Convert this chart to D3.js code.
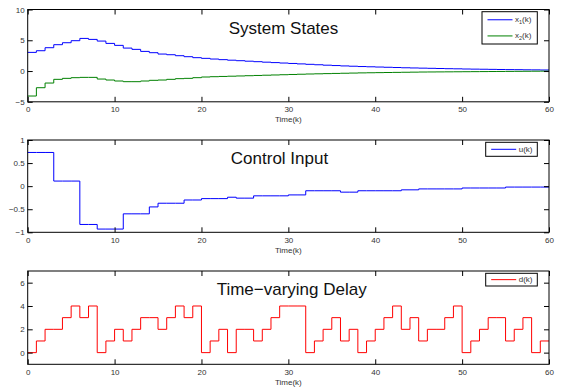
<!DOCTYPE html>
<html>
<head>
<meta charset="utf-8">
<script src="https://cdn.jsdelivr.net/npm/d3@7"></script>
<style>
  body { margin: 0; background: #fff; }
  svg { display: block; font-family: "Liberation Sans", Arial, Helvetica, sans-serif; }
  .tick text { fill: #333; font-size: 8px; }
  .tick line { stroke: #000; }
</style>
</head>
<body>
<script>
// time steps k = 0..60
const steps = d3.range(0, 61);

// system states x1(k), x2(k)
const x1 = [3.03, 3.30, 3.79, 4.28, 4.60, 4.93, 5.30, 5.14, 4.87, 4.49,
            4.17, 3.73, 3.52, 3.19, 2.98, 2.76, 2.65, 2.49, 2.33, 2.17,
            2.06, 1.95, 1.85, 1.76, 1.68, 1.60, 1.52, 1.44, 1.37, 1.30,
            1.23, 1.16, 1.09, 1.02, 0.95, 0.89, 0.83, 0.78, 0.73, 0.69,
            0.65, 0.61, 0.57, 0.53, 0.50, 0.47, 0.44, 0.41, 0.38, 0.36,
            0.33, 0.31, 0.29, 0.27, 0.25, 0.23, 0.22, 0.20, 0.19, 0.17, 0.16];
const x2 = [-4.06, -2.71, -1.95, -1.35, -1.19, -1.08, -1.03, -1.03, -1.30, -1.46,
            -1.62, -1.73, -1.73, -1.62, -1.51, -1.46, -1.35, -1.24, -1.19, -1.08,
            -0.97, -0.92, -0.88, -0.84, -0.80, -0.76, -0.72, -0.68, -0.64, -0.60,
            -0.56, -0.52, -0.48, -0.45, -0.42, -0.39, -0.36, -0.33, -0.30, -0.28,
            -0.26, -0.24, -0.22, -0.20, -0.18, -0.16, -0.15, -0.14, -0.13, -0.12,
            -0.11, -0.10, -0.09, -0.08, -0.07, -0.06, -0.05, -0.04, -0.03, -0.02, -0.02];

// control input u(k)
const u = [0.73, 0.73, 0.73, 0.11, 0.11, 0.11, -0.83, -0.83, -0.93, -0.93,
           -0.93, -0.60, -0.60, -0.60, -0.45, -0.37, -0.37, -0.37, -0.30, -0.30,
           -0.27, -0.27, -0.27, -0.24, -0.26, -0.26, -0.21, -0.21, -0.21, -0.21,
           -0.19, -0.19, -0.10, -0.10, -0.10, -0.10, -0.13, -0.13, -0.10, -0.10,
           -0.10, -0.10, -0.10, -0.08, -0.08, -0.06, -0.06, -0.06, -0.06, -0.06,
           -0.04, -0.04, -0.04, -0.04, -0.04, -0.02, -0.02, -0.02, -0.02, -0.02, -0.02];

// time-varying delay d(k)
const delay = [0, 1, 2, 2, 3, 4, 3, 4, 0, 1,
               2, 1, 2, 3, 3, 2, 3, 4, 3, 4,
               0, 1, 2, 0, 2, 2, 1, 2, 3, 4,
               4, 4, 0, 1, 2, 3, 1, 2, 0, 1,
               2, 3, 4, 2, 3, 1, 2, 2, 3, 4,
               0, 1, 2, 3, 3, 1, 2, 3, 0, 1, 1];

const xTicks = [0, 10, 20, 30, 40, 50, 60];
const xLabel = "Time(k)";

const width = 561, height = 392;
const left = 27.7, right = 549;

const panels = [
  { title: "System States", titleX: 283.5, top: 9.5, h: 92.3, domain: [-5, 10], ticks: [-5, 0, 5, 10],
    series: [{ name: "x", sub: "1", values: x1, color: "#0000ff" },
             { name: "x", sub: "2", values: x2, color: "#008000" }],
    legend: { x: 482, y: 11.7, w: 55.3, h: 32.3 } },
  { title: "Control Input", titleX: 279.5, top: 140, h: 92.3, domain: [-1, 1], ticks: [-1, -0.5, 0, 0.5, 1],
    series: [{ name: "u", sub: null, values: u, color: "#0000ff" }],
    legend: { x: 485.7, y: 142.3, w: 51.6, h: 14 } },
  { title: "Time\u2212varying Delay", titleX: 291.7, top: 271, h: 93.3, domain: [-1, 7], ticks: [0, 2, 4, 6],
    series: [{ name: "d", sub: null, values: delay, color: "#ff0000" }],
    legend: { x: 485.7, y: 273.3, w: 51.6, h: 12.7 } }
];

const svg = d3.select("body").append("svg")
  .attr("width", width)
  .attr("height", height);

const x = d3.scaleLinear().domain([0, 60]).range([left, right]);
const fmt = d3.format("~g");

panels.forEach(p => {
  const y = d3.scaleLinear().domain(p.domain).range([p.top + p.h, p.top]);
  const g = svg.append("g");

  // stairs
  p.series.forEach(s => {
    const line = d3.line()
      .x((d, i) => x(steps[i]))
      .y(d => y(d))
      .curve(d3.curveStepAfter);
    g.append("path")
      .datum(s.values)
      .attr("fill", "none")
      .attr("stroke", s.color)
      .attr("stroke-width", 1)
      .attr("d", line);
  });

  // axes, ticks pointing inward
  g.append("g")
    .attr("transform", `translate(0,${p.top + p.h})`)
    .call(d3.axisBottom(x).tickValues(xTicks).tickSizeInner(-5).tickSizeOuter(0).tickPadding(5));
  g.append("g")
    .attr("transform", `translate(0,${p.top})`)
    .call(d3.axisTop(x).tickValues(xTicks).tickSizeInner(-5).tickSizeOuter(0).tickFormat(""));
  g.append("g")
    .attr("transform", `translate(${left},0)`)
    .call(d3.axisLeft(y).tickValues(p.ticks).tickFormat(fmt).tickSizeInner(-5).tickSizeOuter(0).tickPadding(3));
  g.append("g")
    .attr("transform", `translate(${right},0)`)
    .call(d3.axisRight(y).tickValues(p.ticks).tickSizeInner(-5).tickSizeOuter(0).tickFormat(""));
  g.selectAll(".domain").remove();

  // frame
  g.append("rect")
    .attr("x", left).attr("y", p.top)
    .attr("width", right - left).attr("height", p.h)
    .attr("fill", "none").attr("stroke", "#000").attr("stroke-width", 1);

  // x label
  g.append("text")
    .attr("x", (left + right) / 2)
    .attr("y", p.top + p.h + 20.5)
    .attr("text-anchor", "middle")
    .attr("font-size", 8)
    .attr("fill", "#333")
    .text(xLabel);

  // title
  g.append("text")
    .attr("x", p.titleX)
    .attr("y", p.top + 24.3)
    .attr("text-anchor", "middle")
    .attr("font-size", 17)
    .attr("fill", "#111")
    .text(p.title);

  // legend
  const L = p.legend;
  const lg = g.append("g");
  lg.append("rect")
    .attr("x", L.x).attr("y", L.y).attr("width", L.w).attr("height", L.h)
    .attr("fill", "#fff").attr("stroke", "#000").attr("stroke-width", 1);
  const rowH = L.h / p.series.length;
  p.series.forEach((s, i) => {
    const cy = L.y + rowH * (i + 0.5);
    lg.append("line")
      .attr("x1", L.x + 5.5).attr("x2", L.x + 30.5)
      .attr("y1", cy).attr("y2", cy)
      .attr("stroke", s.color).attr("stroke-width", 1);
    const t = lg.append("text")
      .attr("x", L.x + 33)
      .attr("y", cy + 2.5)
      .attr("font-size", 8)
      .attr("fill", "#333");
    t.append("tspan").text(s.name);
    if (s.sub) {
      t.append("tspan").attr("font-size", 5.5).attr("dy", 2).text(s.sub);
      t.append("tspan").attr("dy", -2).text("(k)");
    } else {
      t.append("tspan").text("(k)");
    }
  });
});
</script>
</body>
</html>
